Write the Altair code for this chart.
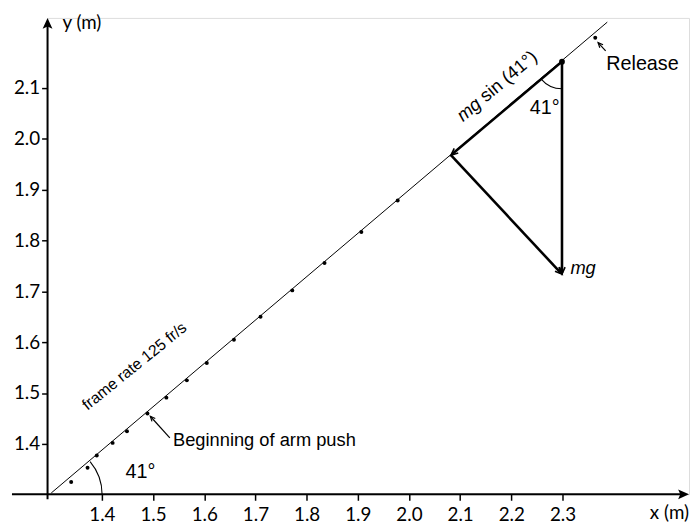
import altair as alt
import pandas as pd

# ---------------- data (metres) ----------------
traj_x = [1.340, 1.372, 1.390, 1.421, 1.449, 1.489, 1.526, 1.566, 1.605,
          1.658, 1.710, 1.772, 1.835, 1.907, 1.978]
traj_y = [1.325, 1.353, 1.377, 1.402, 1.425, 1.460, 1.491, 1.525, 1.559,
          1.605, 1.650, 1.702, 1.756, 1.817, 1.879]
vertex_x = [2.299]
vertex_y = [2.152]
release_x = [2.364]
release_y = [2.199]
fit_x = [1.301, 2.3875]
fit_y = [1.3034, 2.2297]
# force triangle: top, left (mg sin), bottom (mg)
tri_x = [2.299, 2.082, 2.299]
tri_y = [2.152, 1.968, 1.734]
x_ticks = [1.4, 1.5, 1.6, 1.7, 1.8, 1.9, 2.0, 2.1, 2.2, 2.3]
y_ticks = [1.4, 1.5, 1.6, 1.7, 1.8, 1.9, 2.0, 2.1]

# ---------------- layout ----------------
X0, X1 = 1.2938, 2.5472
Y0, Y1 = 1.3008, 2.238
W, H = 649, 482

xs = alt.Scale(domain=[X0, X1], nice=False, zero=False)
ys = alt.Scale(domain=[Y0, Y1], nice=False, zero=False)
common_axis = dict(format=".1f", domain=False, grid=False, title=None,
                   ticks=True, tickSize=6, tickWidth=1.5, tickColor="black",
                   labelFont="Lato", labelFontSize=19, labelColor="black",
                   labelFlush=False, labelOverlap=False)
xax = alt.Axis(values=x_ticks, labelPadding=5, **common_axis)
yax = alt.Axis(values=y_ticks, labelPadding=2, **common_axis)


def X(f):
    return alt.X(f, type="quantitative", scale=xs, axis=xax)


def Y(f):
    return alt.Y(f, type="quantitative", scale=ys, axis=yax)


def seg_layer(rows, width):
    df = pd.DataFrame(rows, columns=["x", "y", "x2", "y2"])
    return alt.Chart(df).mark_rule(color="black", strokeWidth=width,
                                   strokeCap="butt").encode(
        x=X("x"), y=Y("y"), x2="x2", y2="y2")


# axis lines
axes = seg_layer([[1.2243, Y0, X1 - 0.01, Y0],
                  [X0, 1.2911, X0, Y1 - 0.01]], 2)

# fitted line
fit = seg_layer([[fit_x[0], fit_y[0], fit_x[1], fit_y[1]]], 1)

# force triangle
forces = seg_layer([[tri_x[0], tri_y[0], tri_x[2], tri_y[2] + 0.002],
                    [tri_x[0], tri_y[0], tri_x[1] + 0.002, tri_y[1] + 0.002],
                    [tri_x[1], tri_y[1], tri_x[2] - 0.002, tri_y[2] + 0.002]], 2.6)

# thin annotation arrows
ann = seg_layer([[1.5327, 1.4117, 1.4946, 1.4544],
                 [2.3843, 2.1733, 2.3695, 2.1894]], 1.2)

# arrow heads
NOTCH = "M0,0 L-0.45,1 L0,0.8 L0.45,1 Z"
OPEN_V = "M-0.45,1 L0,0 L0.45,1"

axis_heads = alt.Chart(pd.DataFrame({
    "x": [X0, X1], "y": [Y1, Y0], "a": [0, 90]})).mark_point(
    shape=NOTCH, size=484, filled=True, color="black", opacity=1,
    strokeWidth=0).encode(x=X("x"), y=Y("y"),
                          angle=alt.Angle("a:Q", scale=None))

force_heads = alt.Chart(pd.DataFrame({
    "x": [tri_x[2], tri_x[1], tri_x[2]],
    "y": [tri_y[2], tri_y[1], tri_y[2]],
    "a": [180, 230, 137]})).mark_point(
    shape=OPEN_V, size=196, filled=False, color="black", opacity=1,
    strokeWidth=1.6).encode(x=X("x"), y=Y("y"),
                            angle=alt.Angle("a:Q", scale=None))

ann_heads = alt.Chart(pd.DataFrame({
    "x": [1.4946, 2.3695], "y": [1.4544, 2.1894], "a": [318, 317]})).mark_point(
    shape=OPEN_V, size=100, filled=False, color="black", opacity=1,
    strokeWidth=1.2).encode(x=X("x"), y=Y("y"),
                            angle=alt.Angle("a:Q", scale=None))

# dots
dots = alt.Chart(pd.DataFrame({"x": traj_x + release_x,
                               "y": traj_y + release_y})).mark_circle(
    size=16, color="black", opacity=1).encode(x=X("x"), y=Y("y"))
vdot = alt.Chart(pd.DataFrame({"x": vertex_x, "y": vertex_y})).mark_circle(
    size=34, color="black", opacity=1).encode(x=X("x"), y=Y("y"))

# angle arcs
arc_bottom = alt.Chart(pd.DataFrame({"x": [1.301], "y": [Y0]})).mark_arc(
    theta=0.87, theta2=1.5708, radius=52, radius2=50.9, color="black").encode(
    x=X("x"), y=Y("y"))
arc_top = alt.Chart(pd.DataFrame({"x": vertex_x, "y": vertex_y})).mark_arc(
    theta=3.1416, theta2=4.014, radius=28, radius2=26.9, color="black").encode(
    x=X("x"), y=Y("y"))


def text_layer(x, y, s, **kw):
    df = pd.DataFrame({"x": [x], "y": [y], "t": [s]})
    props = dict(color="black", font="Liberation Sans")
    props.update(kw)
    return alt.Chart(df).mark_text(**props).encode(
        x=X("x"), y=Y("y"), text="t:N")


texts = [
    text_layer(1.539, 1.3955, "Beginning of arm push", fontSize=18.5,
               align="left", baseline="alphabetic"),
    text_layer(2.3855, 2.1363, "Release", fontSize=20, align="left",
               baseline="alphabetic"),
    text_layer(2.3154, 1.7344, "mg", fontSize=18.5, fontStyle="italic",
               align="left", baseline="alphabetic"),
    text_layer(1.4753, 1.3445, "41°", fontSize=20, align="center",
               baseline="middle"),
    text_layer(2.2653, 2.060, "41°", fontSize=20, align="center",
               baseline="middle"),
    text_layer(2.1463, 2.0674, "mg", fontSize=18.5, fontStyle="italic",
               align="right", baseline="alphabetic", angle=320, dx=-2),
    text_layer(2.1463, 2.0674, "sin (41°)", fontSize=18.5, align="left",
               baseline="alphabetic", angle=320, dx=3),
    text_layer(1.4637, 1.5526, "frame rate 125 fr/s", fontSize=16,
               align="center", baseline="middle", angle=321),
    text_layer(1.3228, 2.2283, "y (m)", font="Lato", fontSize=19,
               align="left", baseline="middle"),
    text_layer(X1, 1.2638, "x (m)", font="Lato", fontSize=19,
               align="right", baseline="middle"),
]

chart = alt.layer(axes, fit, forces, ann, axis_heads, force_heads, ann_heads,
                  dots, vdot, arc_bottom, arc_top, *texts).properties(
    width=W, height=H, autosize="none",
    padding={"left": 40, "top": 7, "right": 1, "bottom": 28},
).configure_view(stroke=None).configure(background="white")

chart.save("out.html", embed_options={"renderer": "svg", "actions": False})
